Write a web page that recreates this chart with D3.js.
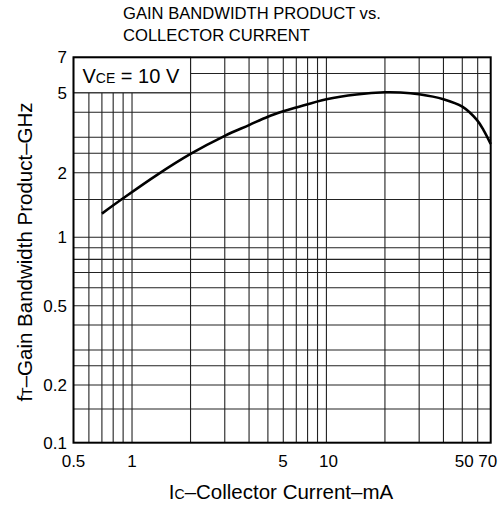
<!DOCTYPE html>
<html><head><meta charset="utf-8">
<script src="https://cdn.jsdelivr.net/npm/d3@7"></script>
<style>body{margin:0;background:#fff}svg{display:block;font-family:"Liberation Sans",Arial,sans-serif}</style>
</head><body><svg id="c" width="501" height="509"></svg>
<script>
// ---- data ----
const currentMA = [0.7, 0.9, 1.34, 2, 3, 4, 5, 6, 7, 10, 14.3, 20, 24, 30, 40, 50, 59.4, 64.3, 70];
const ftGHz     = [1.29, 1.52, 1.95, 2.48, 3.05, 3.45, 3.8, 4.04, 4.22, 4.64, 4.9, 5.02, 5.01, 4.91, 4.64, 4.26, 3.66, 3.26, 2.78];
const xGridVals = [0.6,0.7,0.8,0.9,1,2,3,4,5,6,7,8,9,10,20,30,40,50,60];
const yGridVals = [0.15,0.2,0.25,0.3,0.4,0.5,0.6,0.7,0.8,0.9,1,1.5,2,2.5,3,4,5,6];
const xTickLabels = ["0.5","1","5","10","50","70"];
const xTickVals   = [0.5, 1, 5, 10, 50, 70];
const yTickLabels = ["0.1","0.2","0.5","1","2","5","7"];
const yTickVals   = [0.1, 0.2, 0.5, 1, 2, 5, 7];

// ---- layout ----
const L = 73.5, R = 490.7, T = 57.3, B = 442.7;
const svg = d3.select("#c");
const x = d3.scaleLog().domain([0.5, 70]).range([L, R]);
// chart's printed log grid is slightly uneven: piecewise log scale
const yFrac = [1, 0.8503, 0.6446, 0.4671, 0.2995, 0.0919, 0];
const y = d3.scaleLog().domain(yTickVals).range(yFrac.map(f => T + f * (B - T)));

const g = svg.append("g");
// grid
g.selectAll(".vx").data(xGridVals).join("line")
  .attr("x1", d => x(d)).attr("x2", d => x(d)).attr("y1", B).attr("y2", T)
  .attr("stroke", "#222").attr("stroke-width", 1.1);
g.selectAll(".hy").data(yGridVals).join("line")
  .attr("x1", L).attr("x2", R).attr("y1", d => y(d)).attr("y2", d => y(d))
  .attr("stroke", "#222").attr("stroke-width", 1.1);

// label box
g.append("rect").attr("x", x(0.5)).attr("y", y(7)).attr("width", x(2) - x(0.5)).attr("height", y(5) - y(7))
  .attr("fill", "#fff").attr("stroke", "#222").attr("stroke-width", 1.1);
const bt = g.append("text").attr("x", x(0.5) + 9).attr("y", y(5) - 9.5).attr("font-size", 20).attr("fill", "#000");
bt.append("tspan").text("V");
bt.append("tspan").attr("font-size", 14).text("CE");
bt.append("tspan").text(" = 10 V");

// curve
const line = d3.line().x(d => x(d[0])).y(d => y(d[1])).curve(d3.curveCatmullRom.alpha(0.5));
g.append("path").datum(currentMA.map((c, i) => [c, ftGHz[i]]))
  .attr("d", line).attr("fill", "none").attr("stroke", "#000").attr("stroke-width", 2.6);

// frame
g.append("rect").attr("x", L).attr("y", T).attr("width", R - L).attr("height", B - T)
  .attr("fill", "none").attr("stroke", "#000").attr("stroke-width", 2);

// x tick labels
const xNudge = [0, 0, 15, 2, 2, -3];
g.selectAll(".xt").data(xTickVals).join("text")
  .attr("x", (d, i) => x(d) + xNudge[i]).attr("y", 467).attr("text-anchor", "middle")
  .attr("font-size", 17).text((d, i) => xTickLabels[i]);
// y tick labels
g.selectAll(".yt").data(yTickVals).join("text")
  .attr("x", 67).attr("y", d => y(d)).attr("dy", "0.36em").attr("text-anchor", "end")
  .attr("font-size", 17).text((d, i) => yTickLabels[i]);

// titles
svg.append("text").attr("x", 123).attr("y", 19).attr("font-size", 16.6).text("GAIN BANDWIDTH PRODUCT vs.");
svg.append("text").attr("x", 123).attr("y", 41).attr("font-size", 16.6).text("COLLECTOR CURRENT");

const xl = svg.append("text").attr("x", 281).attr("y", 499).attr("text-anchor", "middle").attr("font-size", 20.5);
xl.append("tspan").text("I");
xl.append("tspan").attr("font-size", 14).text("C");
xl.append("tspan").text("\u2013Collector Current\u2013mA");

const yl = svg.append("text").attr("transform", "translate(32,252) rotate(-90)").attr("text-anchor", "middle").attr("font-size", 20.5);
yl.append("tspan").text("f");
yl.append("tspan").attr("font-size", 14).text("T");
yl.append("tspan").text("\u2013Gain Bandwidth Product\u2013GHz");
</script></body></html>
